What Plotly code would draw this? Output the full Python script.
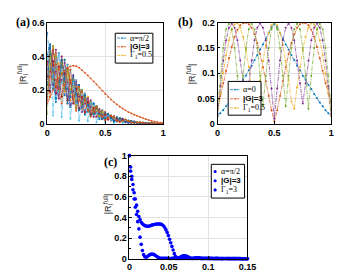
import numpy as np
import plotly.graph_objects as go

W, H = 345, 277
COLORS = ['#0072BD', '#D95319', '#EDB120', '#7E2F8E', '#77AC30', '#4DBEEE', '#A2142F']

# ---------------- data panel (a) ----------------
xa = np.linspace(0, 1, 41)
a_special = [.12, .16, .2, .24, .27, .295, .315, .33, .34, .345, .342, .333, .318, .303, .287, .27, .252, .234, .215, .196,
             .177, .16, .144, .129, .115, .102, .091, .08, .07, .062, .054, .047, .041, .034, .028, .022, .017, .013, .01, .007, .005]
a_curves = [
    [.54, .35, .21, .33, .42, .30, .17, .26, .32, .22, .12, .17, .20, .135, .072, .105, .12, .079, .04, .06,
     .07, .045, .022, .034, .04, .026, .0135, .019, .02, .013, .006, .008, .009, .005, .0023, .003, .003, .0015, .0005, .0004, 0],
    [.28, .16, .46, .26, .15, .40, .23, .12, .32, .17, .09, .23, .12, .063, .16, .084, .042, .105, .054, .028,
     .07, .036, .018, .045, .024, .012, .03, .015, .007, .017, .008, .004, .009, .004, .002, .004, .002, .001, .001, 0, 0],
    [.21, .35, .46, .33, .19, .30, .38, .26, .14, .22, .26, .17, .09, .135, .16, .105, .054, .079, .09, .06,
     .032, .045, .05, .034, .018, .026, .03, .019, .009, .013, .014, .008, .004, .005, .005, .003, .0014, .0015, .001, 0, 0],
    [.23, .47, .23, .44, .21, .40, .19, .35, .16, .29, .13, .23, .10, .18, .08, .14, .06, .105, .045, .08,
     .035, .06, .025, .045, .02, .035, .015, .025, .01, .017, .007, .011, .0045, .007, .0025, .004, .0015, .002, .0005, .0005, 0],
    [.18, .33, .46, .35, .21, .16, .27, .35, .26, .15, .10, .16, .20, .14, .08, .056, .084, .105, .072, .04,
     .028, .042, .05, .036, .02, .014, .021, .025, .016, .0085, .0056, .0077, .009, .0056, .0025, .0016, .002, .002, .0008, .0003, 0],
    [.32, .47, .05, .31, .42, .04, .27, .35, .03, .20, .26, .02, .14, .18, .016, .098, .12, .01, .063, .08,
     .007, .042, .05, .0045, .028, .035, .003, .0175, .02, .0017, .0098, .011, .001, .005, .005, .0004, .002, .002, .0001, .0004, 0],
    [.28, .42, .37, .18, .25, .36, .30, .14, .19, .26, .21, .09, .12, .16, .13, .056, .072, .095, .072, .032,
     .042, .054, .04, .018, .024, .032, .024, .01, .012, .015, .011, .0044, .0054, .0063, .004, .0016, .0018, .0018, .0008, .0002, 0],
    [.41, .47, .28, .13, .21, .36, .38, .21, .10, .145, .23, .23, .12, .054, .08, .126, .12, .063, .027, .04,
     .063, .06, .03, .0135, .02, .0315, .03, .015, .006, .0085, .0126, .011, .0054, .002, .0025, .0036, .003, .0012, .0003, .0003, 0],
    [.35, .45, .35, .42, .32, .38, .29, .33, .24, .28, .20, .22, .15, .17, .12, .13, .09, .10, .068, .076,
     .053, .057, .038, .043, .03, .033, .023, .024, .015, .016, .0105, .0105, .0068, .0067, .0038, .0038, .0023, .0019, .0008, .0005, 0],
    [.23, .40, .30, .22, .36, .26, .19, .30, .21, .145, .22, .15, .10, .15, .10, .07, .10, .068, .045, .068,
     .046, .03, .043, .029, .02, .03, .02, .0125, .017, .011, .007, .0094, .0059, .0035, .0043, .0026, .0015, .0017, .00065, .00025, 0],
    [.16, .31, .44, .31, .15, .26, .36, .245, .11, .19, .25, .16, .07, .12, .15, .098, .042, .068, .086, .056,
     .025, .039, .048, .0315, .014, .023, .0285, .0175, .007, .011, .0133, .0077, .0032, .0046, .0048, .0028, .001, .0013, .001, .0003, 0],
    [.06, .42, .25, .40, .23, .36, .21, .32, .18, .26, .14, .21, .11, .16, .09, .126, .066, .095, .05, .072,
     .038, .054, .0275, .04, .022, .0315, .0165, .0225, .011, .015, .0077, .01, .005, .0063, .0028, .0036, .0017, .0018, .00055, .00045, 0],
    [.39, .21, .28, .37, .19, .24, .32, .16, .19, .25, .12, .14, .17, .08, .096, .12, .054, .063, .077, .036,
     .042, .051, .0225, .027, .034, .016, .018, .021, .009, .01, .012, .005, .0054, .006, .0023, .0024, .0026, .0009, .0006, .0004, 0],
    [.37, .19, .37, .18, .34, .16, .30, .14, .26, .12, .21, .09, .16, .07, .13, .056, .096, .042, .072, .032,
     .056, .024, .04, .018, .032, .014, .024, .01, .016, .007, .011, .0044, .0072, .0028, .004, .0016, .0024, .0008, .0008, .0002, 0],
    [.23, .45, .32, .15, .21, .38, .27, .12, .16, .28, .18, .08, .10, .17, .11, .049, .06, .10, .063, .028,
     .035, .057, .035, .016, .02, .033, .021, .009, .01, .016, .0098, .0039, .0045, .0067, .0035, .0014, .0015, .0019, .0007, .0002, 0],
    [.14, .28, .44, .35, .21, .12, .23, .33, .26, .145, .078, .14, .19, .14, .08, .042, .072, .10, .072, .04,
     .021, .036, .0475, .036, .02, .0105, .018, .024, .016, .0085, .0042, .0066, .0086, .0056, .0025, .0012, .0018, .0019, .0008, .00025, 0],
]

# ---------------- data panel (b) ----------------
xb = np.linspace(0, 1, 41)
b_blue = [.015, .021, .027, .035, .042, .051, .059, .069, .077, .087, .095, .106, .115, .126, .136, .147, .157, .168, .180, .191, .198,
          .191, .180, .168, .157, .147, .136, .126, .115, .106, .095, .087, .077, .069, .059, .051, .042, .035, .027, .021, .015]
b_orange = [.03, .055, .08, .105, .13, .152, .172, .186, .195, .199, .2, .197, .19, .177, .16, .138, .112, .084, .055, .027,
            .005, .027, .055, .084, .112, .138, .16, .177, .19, .197, .2, .199, .195, .186, .172, .152, .13, .105, .08, .06, .045]
b_yellow = [.015, .06, .1, .135, .165, .186, .197, .199, .19, .172, .146, .112, .072, .03, .044, .086, .124, .156, .18, .195,
            .2, .195, .18, .156, .124, .086, .044, .03, .072, .112, .146, .172, .19, .199, .197, .186, .165, .135, .1, .06, .015]
b_purple = [.02, .075, .125, .165, .19, .198, .19, .165, .125, .08, .045, .08, .125, .165, .19, .198, .19, .165, .125, .07,
            .01, .07, .125, .165, .19, .198, .19, .165, .125, .08, .04, .08, .125, .165, .19, .198, .19, .165, .125, .075, .02]
b_green = [.03, .095, .15, .187, .198, .187, .15, .095, .035, .095, .15, .187, .198, .187, .15, .095, .035, .095, .15, .187,
           .2, .187, .15, .095, .035, .095, .15, .187, .198, .187, .15, .095, .03, .095, .15, .187, .198, .187, .15, .095, .03]

# ---------------- data panel (c) ----------------
xc = np.linspace(0, 0.15, 101)
c_slow = [1.0, .89, .80, .72, .64, .58, .52, .46, .41, .38, .355, .34, .33, .322, .318, .316, .316, .318, .322, .326,
          .33, .333, .335, .337, .338, .337, .336, .334, .328, .318, .30, .28, .255, .225, .19, .155, .12, .085, .05, .025,
          .01, .004, .008, .015, .022, .027, .03, .03, .027, .022, .016, .01, .006, .004, .005, .007, .009, .01, .01, .009,
          .008, .006, .005, .004, .004, .005, .006, .006, .006, .005, .004, .003, .003, .004, .004, .004, .003, .003, .002, .002,
          .003, .003, .003, .003, .002, .002, .002, .002, .002, .002, .002, .002, .002, .002, .002, .001, .001, .001, .001, .001, .001]
c_fast = [1.0, .85, .77, .67, .58, .50, .43, .36, .29, .21, .14, .08, .04, .02, .015, .02, .03, .038, .043, .045,
          .044, .04, .032, .024, .016, .01, .006, .004, .004, .005, .006, .006, .005, .004, .003, .003, .004, .005, .005, .004,
          .003, .003, .004, .004, .004, .003, .003, .003, .003, .004, .004, .003, .003, .003, .003, .003, .003, .003, .003, .003,
          .003, .002, .002, .003, .003, .003, .002, .002, .002, .002, .002, .002, .002, .002, .002, .002, .002, .002, .002, .002,
          .002, .002, .002, .002, .002, .002, .002, .002, .002, .002, .002, .002, .002, .002, .001, .001, .001, .001, .001, .001, .001]

legend_a = ["α=π/2", "|G|=3", "Γ<sub>1</sub>=0.5"]
legend_b = ["α=0", "|G|=3", "Γ<sub>1</sub>=0.5"]
legend_c = ["α=π/2", "|G|=3", "Γ<sub>1</sub>=3"]


def PX(px):
    return px / W


def PY(py):
    return 1 - py / H


fig = go.Figure()

line_style = dict(width=0.7, dash='4px,1px,1px,1px')
# panel a
for i, ys in enumerate(a_curves):
    col = COLORS[i % 7]
    fig.add_trace(go.Scatter(x=xa, y=ys, mode='lines+markers', xaxis='x', yaxis='y',
                             line=dict(color=col, **line_style),
                             marker=dict(size=2, color=col), showlegend=False))
fig.add_trace(go.Scatter(x=xa, y=a_special, mode='lines+markers', xaxis='x', yaxis='y',
                         line=dict(color=COLORS[1], width=0.75), marker=dict(size=1.8, color=COLORS[1]),
                         showlegend=False))

# panel b
for ys, col in zip([b_blue, b_orange, b_yellow, b_purple, b_green], COLORS[:5]):
    fig.add_trace(go.Scatter(x=xb, y=ys, mode='lines+markers', xaxis='x2', yaxis='y2',
                             line=dict(color=col, **line_style), marker=dict(size=2, color=col),
                             showlegend=False))

# panel c
for ys in [c_slow, c_fast]:
    fig.add_trace(go.Scatter(x=xc, y=ys, mode='markers', xaxis='x3', yaxis='y3',
                             marker=dict(size=3.6, color='#0000FF'), cliponaxis=False, showlegend=False))

tickfont = dict(family='Liberation Sans', size=9, color='black', weight=700)
common = dict(showline=True, linecolor='black', linewidth=0.8, mirror=True, ticks='inside', ticklen=3,
              tickcolor='black', showgrid=True, gridcolor='#e2e2e2', gridwidth=0.8, zeroline=False,
              tickfont=tickfont)

fig.update_layout(
    width=W, height=H, margin=dict(l=0, r=0, t=0, b=0), autosize=False,
    paper_bgcolor='white', plot_bgcolor='white', showlegend=False,
    xaxis=dict(domain=[PX(37.5), PX(157.7)], range=[0, 1], tickvals=[0, 0.5, 1], anchor='y', **common),
    yaxis=dict(domain=[PY(115), PY(10)], range=[0, 0.6], tickvals=[0, 0.2, 0.4, 0.6], anchor='x', **common),
    xaxis2=dict(domain=[PX(214), PX(331.7)], range=[0, 1], tickvals=[0, 0.5, 1], anchor='y2', **common),
    yaxis2=dict(domain=[PY(115), PY(10)], range=[0, 0.2], tickvals=[0, 0.05, 0.1, 0.15, 0.2], anchor='x2', **common),
    xaxis3=dict(domain=[PX(122.7), PX(245)], range=[0, 0.15], tickvals=[0, 0.05, 0.1, 0.15], anchor='y3', **common),
    yaxis3=dict(domain=[PY(255), PY(148)], range=[0, 1], tickvals=[0, 0.2, 0.4, 0.6, 0.8, 1], anchor='x3',
                minor=dict(ticks='inside', ticklen=2, tickcolor='black', dtick=0.1, showgrid=False), **common),
)

shapes = []
annotations = []

# panel labels
for txt, cx, cy in [("(a)", 12, 9), ("(b)", 181, 9), ("(c)", 103, 155)]:
    annotations.append(dict(text=txt, x=PX(cx), y=PY(cy), xref='paper', yref='paper', showarrow=False,
                            xanchor='center', yanchor='middle',
                            font=dict(family='Liberation Serif', size=12, color='black', weight=700)))
# y-axis titles
for cx, cy in [(12, 63), (187, 63), (101, 198)]:
    annotations.append(dict(text="|R<sub>i</sub><sup>full</sup>|", x=PX(cx), y=PY(cy), xref='paper', yref='paper',
                            showarrow=False, textangle=-90, xanchor='center', yanchor='middle',
                            font=dict(family='Liberation Sans', size=9, color='#222')))


def legend_box(x0, y0, x1, y1, rows, labels, colors, sym_x0, sym_x1, text_x, dots_only=False):
    shapes.append(dict(type='rect', xref='paper', yref='paper', x0=PX(x0), x1=PX(x1), y0=PY(y1), y1=PY(y0),
                       line=dict(color='black', width=1), fillcolor='white', layer='above'))
    for ry, lab, col in zip(rows, labels, colors):
        if not dots_only:
            shapes.append(dict(type='line', xref='paper', yref='paper', x0=PX(sym_x0), x1=PX(sym_x1),
                               y0=PY(ry), y1=PY(ry), line=dict(color=col, width=0.8, dash='dot'), layer='above'))
        mx = (sym_x0 + sym_x1) / 2
        r = 1.6 if dots_only else 0.9
        shapes.append(dict(type='circle', xref='paper', yref='paper', x0=PX(mx - r), x1=PX(mx + r),
                           y0=PY(ry + r), y1=PY(ry - r), fillcolor=col, line=dict(color=col, width=0),
                           layer='above'))
        fam = 'Liberation Sans' if 'G' in lab else 'Liberation Serif'
        annotations.append(dict(text=lab, x=PX(text_x), y=PY(ry), xref='paper', yref='paper', xanchor='left',
                                yanchor='middle', showarrow=False,
                                font=dict(family=fam, size=8, color='black', weight=700 if 'G' in lab else 400)))


legend_box(108, 21, 147, 52, [26, 35, 44], legend_a, COLORS[:3], 110, 120, 121)
legend_box(225, 71, 259, 106, [79.5, 89, 98.5], legend_b, COLORS[:3], 227, 237, 238.5)
legend_box(207.5, 157, 242, 192, [164.5, 174, 183.5], legend_c, ['#0000FF'] * 3, 210, 213, 215, dots_only=True)

fig.update_layout(shapes=shapes, annotations=annotations)
fig.write_html("out.html")
